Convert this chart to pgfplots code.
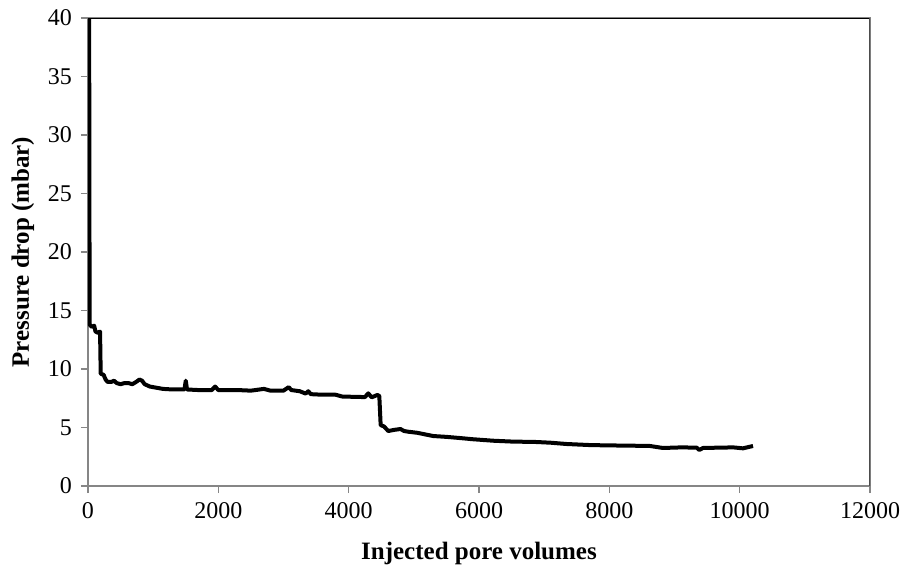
\documentclass[border=0pt]{standalone}
\usepackage{fontspec}
\setmainfont{Liberation Serif}
\usepackage{pgfplots}
\pgfplotsset{compat=1.18}
\definecolor{axgray}{RGB}{134,134,134}

\begin{document}
\begin{tikzpicture}
\begin{axis}[
  at={(0,0)},anchor=south west,
  scale only axis,
  width=391pt,height=234pt,
  xmin=0,xmax=12000,ymin=0,ymax=40,
  xtick={0,2000,...,12000},ytick={0,5,...,40},
  xtick pos=bottom,ytick pos=left,
  /pgf/number format/assume math mode=true,
  /pgf/number format/1000 sep={},
  scaled x ticks=false,
  tick align=outside,
  major tick length=3.5pt,
  tick style={axgray,line width=0.6pt},
  axis line style={axgray,line width=0.6pt},
  minor tick num=0,
  ticklabel style={font=\fontsize{12}{14}\selectfont},
  xticklabel style={yshift=-1pt},
  yticklabel style={xshift=-1pt},
  xlabel={\textbf{Injected pore volumes}},
  ylabel={\textbf{Pressure drop (mbar)}},
  label style={font=\fontsize{12.5}{14}\selectfont},
  xlabel style={yshift=-5pt},
  ylabel style={yshift=0pt},
]
\addplot[black,line width=2pt,line join=round] coordinates {
(12,60)(25,13.8)(60,13.6)(95,13.7)(115,13.2)(150,13.1)(185,13.2)
(195,9.6)(240,9.5)(270,9.1)(300,8.9)(360,8.9)(400,9.0)(440,8.8)(500,8.7)
(560,8.8)(620,8.8)(680,8.7)(740,8.9)(790,9.1)(830,9.0)(870,8.7)(950,8.5)
(1050,8.4)(1150,8.3)(1300,8.25)(1480,8.25)(1500,9.0)(1520,8.25)(1700,8.2)
(1900,8.2)(1950,8.5)(2000,8.2)(2300,8.2)(2500,8.15)(2700,8.3)(2800,8.15)
(3000,8.15)(3080,8.45)(3120,8.2)(3250,8.1)(3340,7.9)(3380,8.1)(3420,7.85)
(3600,7.8)(3800,7.8)(3900,7.65)(4020,7.63)(4250,7.6)(4300,7.92)(4353,7.58)
(4440,7.78)(4470,7.7)(4491,5.2)(4540,5.1)(4608,4.7)(4700,4.8)(4795,4.87)
(4850,4.7)(4915,4.64)(5050,4.55)(5300,4.27)(5500,4.2)(5708,4.1)(5900,4.0)
(6219,3.87)(6500,3.8)(6884,3.76)(7100,3.7)(7345,3.59)(7700,3.5)(7985,3.47)
(8300,3.45)(8624,3.42)(8823,3.25)(9100,3.3)(9340,3.28)(9380,3.08)(9437,3.25)
(9700,3.28)(9902,3.3)(10051,3.22)(10150,3.35)(10205,3.42)
};
\draw[black,line width=0.6pt] (rel axis cs:0,1) -- (rel axis cs:1,1);
\draw[black!70,line width=0.6pt] (rel axis cs:1,0) -- (rel axis cs:1,1);
\end{axis}
\pgfresetboundingbox
\path[use as bounding box] (-44pt,-41pt) rectangle (410pt,243pt);
\end{tikzpicture}
\end{document}
